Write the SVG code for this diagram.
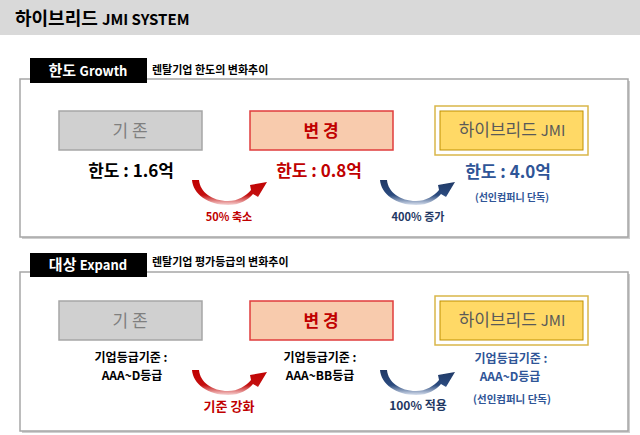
<svg xmlns="http://www.w3.org/2000/svg" width="640" height="435" viewBox="0 0 640 435">
<style>
text{font-family:"Noto Sans CJK KR","Liberation Sans",sans-serif;}
.b{font-weight:bold;}
.panel{fill:#fff;stroke:#a6a6a6;stroke-width:1.5;}
.shadow{fill:#cfcfcf;}
.tab{fill:#000;}
.tabt{fill:#fff;font-weight:bold;text-anchor:middle;}
.sub{font-size:11px;font-weight:bold;fill:#000;}
.old{fill:#d0d0d0;stroke:#a6a6a6;stroke-width:1.5;}
.new{fill:#f8cbad;stroke:#e03c3c;stroke-width:1.5;}
.jo{fill:#fff;stroke:#d9b64a;stroke-width:1.5;}
.ji{fill:#ffd966;stroke:#bf9000;stroke-width:1;}
.c{text-anchor:middle;}
.gray{fill:#7f7f7f;}
.red{fill:#c00000;}
.blue{fill:#2f5597;}
.navy{fill:#1f3864;}
.dk{fill:#595959;}
</style>
<defs>
<linearGradient id="gr" x1="0" y1="0" x2="0" y2="1">
<stop offset="0" stop-color="#c00000"/><stop offset="0.6" stop-color="#c41010"/><stop offset="1" stop-color="#f7d6d6"/>
</linearGradient>
<linearGradient id="gb" x1="0" y1="0" x2="0" y2="1">
<stop offset="0" stop-color="#1f3864"/><stop offset="0.6" stop-color="#2a4a7e"/><stop offset="1" stop-color="#d8e0ee"/>
</linearGradient>
<path id="carrow" d="M0 0 C1 14 16 25 36 25 C48 25 56 20 61 14 L66 17 L75 2 L58 5 L59 10 C54 16 46 21 36 21 C20 21 8 12 7 0 Z"/>
</defs>

<rect x="0" y="0" width="640" height="35" fill="#d9d9d9"/>
<text x="15" y="25" class="b" font-size="18" fill="#000">하이브리드 <tspan font-size="15">JMI SYSTEM</tspan></text>

<!-- top panel -->
<g id="panel-growth">
<rect x="22" y="81" width="608" height="158" class="shadow"/>
<rect x="20" y="79" width="608" height="158" class="panel"/>
<rect x="30" y="58" width="117" height="25" class="tab"/>
<text x="88" y="76" class="tabt" font-size="15">한도 <tspan font-size="13">Growth</tspan></text>
<text x="152" y="74" class="sub">렌탈기업 한도의 변화추이</text>
</g>
<g id="g-old">
<rect x="59" y="111" width="143" height="39" class="old"/>
<text x="130" y="137" class="c gray" font-size="17">기 존</text>
<text x="131" y="177" class="c b" font-size="17" fill="#000">한도 : 1.6억</text>
</g>
<g id="g-new">
<rect x="250" y="111" width="143" height="39" class="new"/>
<text x="321" y="137" class="c b red" font-size="17">변 경</text>
<text x="319" y="177" class="c b red" font-size="17">한도 : 0.8억</text>
</g>
<g id="g-jmi">
<rect x="435" y="106" width="153" height="49" class="jo"/>
<rect x="440" y="111" width="143" height="39" class="ji"/>
<text x="512" y="136" class="c dk" font-size="17">하이브리드 <tspan font-size="15">JMI</tspan></text>
<text x="508" y="178" class="c b blue" font-size="17">한도 : 4.0억</text>
<text x="512" y="201" class="c b blue" font-size="10">(선인컴퍼니 단독)</text>
</g>

<!-- bottom panel -->
<g id="panel-expand">
<rect x="22" y="274" width="608" height="159" class="shadow"/>
<rect x="20" y="272" width="608" height="159" class="panel"/>
<rect x="30" y="253" width="117" height="24" class="tab"/>
<text x="88" y="270" class="tabt" font-size="15">대상 <tspan font-size="13">Expand</tspan></text>
<text x="152" y="266" class="sub">렌탈기업 평가등급의 변화추이</text>
</g>
<g id="e-old">
<rect x="59" y="301" width="143" height="39" class="old"/>
<text x="130" y="327" class="c gray" font-size="17">기 존</text>
<text x="131" y="362" class="c b" font-size="12" fill="#000">기업등급기준 :</text>
<text x="132" y="380" class="c b" font-size="12" fill="#000">AAA~D등급</text>
</g>
<g id="e-new">
<rect x="250" y="301" width="143" height="39" class="new"/>
<text x="321" y="327" class="c b red" font-size="17">변 경</text>
<text x="320" y="362" class="c b" font-size="12" fill="#000">기업등급기준 :</text>
<text x="320" y="380" class="c b" font-size="12" fill="#000">AAA~BB등급</text>
</g>
<g id="e-jmi">
<rect x="435" y="296" width="153" height="49" class="jo"/>
<rect x="440" y="301" width="143" height="39" class="ji"/>
<text x="512" y="326" class="c dk" font-size="17">하이브리드 <tspan font-size="15">JMI</tspan></text>
<text x="511" y="363" class="c b blue" font-size="12">기업등급기준 :</text>
<text x="510" y="381" class="c b blue" font-size="12">AAA~D등급</text>
<text x="512" y="403" class="c b blue" font-size="10.5">(선인컴퍼니 단독)</text>
</g>

<!-- connectors -->
<g id="connectors">
<use href="#carrow" x="192" y="180" fill="url(#gr)"/>
<text x="229" y="221" class="c b red" font-size="11">50% 축소</text>
<use href="#carrow" x="380" y="180" fill="url(#gb)"/>
<text x="418" y="221" class="c b navy" font-size="11">400% 증가</text>
<use href="#carrow" x="192" y="370" fill="url(#gr)"/>
<text x="229" y="411" class="c b red" font-size="13">기준 강화</text>
<use href="#carrow" x="380" y="370" fill="url(#gb)"/>
<text x="418" y="410" class="c b navy" font-size="12">100% 적용</text>
</g>
</svg>
